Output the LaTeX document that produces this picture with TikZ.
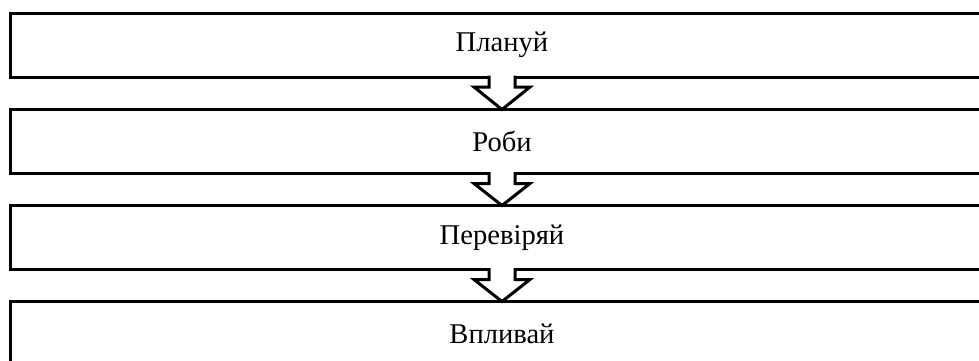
\documentclass[tikz,border=0pt]{standalone}
\usepackage{fontspec}
\setmainfont{Liberation Serif}
\usetikzlibrary{calc}

\begin{document}
\begin{tikzpicture}[x=0.5pt,y=-0.5pt]
\tikzset{
    stage/.style={draw, line width=1.5pt, fill=white, outer sep=0pt,
        minimum width=492pt, minimum height=32pt, font=\fontsize{14.3}{16}\selectfont},
    flow/.style={draw, fill=white, line width=1.5pt, miter limit=10},
    }
\useasboundingbox (0,0) rectangle (979,360);
\clip (0,0) rectangle (979,360);

% Stages
\node[stage] (plan)  at (502,45)    {Плануй};
\node[stage] (do)    at (502,141.5) {Роби};
\node[stage] (check) at (502,237.5) {Перевіряй};
\node[stage] (act)   at (502,333.5) {Впливай};

% Block arrows between the stages
\foreach \a/\b in {plan/do, do/check, check/act} {
    \draw[flow]
    ($(\a.south)+(-13,-1.5)$) -- ($(\a.south)+(-13,10)$)
    -- ($(\a.south)+(-28,10)$) -- (\b.north)
    -- ($(\a.south)+(28,10)$) -- ($(\a.south)+(13,10)$)
    -- ($(\a.south)+(13,-1.5)$);
}

\end{tikzpicture}
\end{document}
